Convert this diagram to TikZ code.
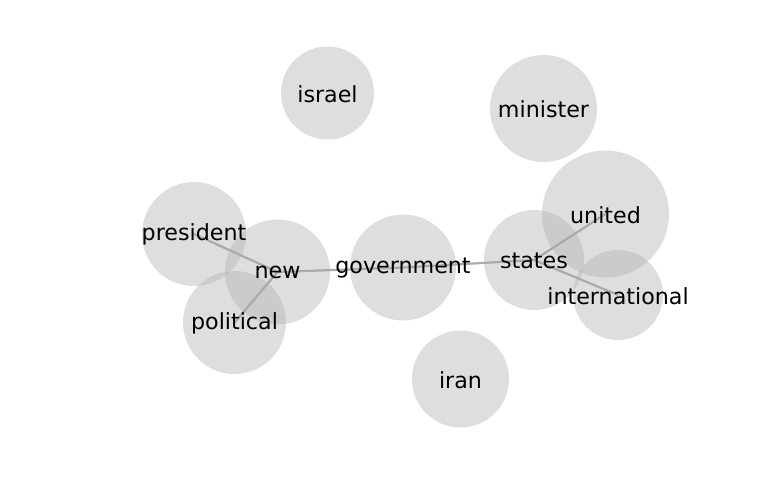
\documentclass[tikz,border=0pt]{standalone}
\usepackage{fontspec}
\setmainfont{DejaVu Sans}
\usepackage{tikz}
\usetikzlibrary{positioning}
\usepackage{xcolor}
\definecolor{wordfill}{HTML}{B3B3B3}
\definecolor{linkgray}{HTML}{AAAAAA}

\begin{document}
\begin{tikzpicture}[x=1pt, y=-1pt,
  word/.style={circle, fill=wordfill, fill opacity=0.44, draw=none, inner sep=0pt, minimum size=#1},
  link/.style={linkgray, line width=2.2pt},
  lbl/.style={font=\fontsize{22.2}{25}\selectfont, inner sep=0pt, yshift=-0.8pt}]
\useasboundingbox (0,0) rectangle (768,500);
% circles
\node[word=93pt]  (israel)   at (327.5,93)  {};
\node[word=107pt] (minister) at (543.5,108.5) {};
\node[word=127pt] (united)   at (605.5,214) {};
\node[word=104pt] (president) at (194,234) {};
\node[word=105pt] (new)      at (277.5,272) {};
\node[word=106pt] (gov)      at (403,267.5) {};
\node[word=100pt] (states)   at (534,260) {};
\node[word=90pt]  (intl)     at (618,295) {};
\node[word=103pt] (political) at (234.5,322.5) {};
\node[word=97pt]  (iran)     at (460.5,379) {};
% links
\draw[link] (president.center) -- (new.center);
\draw[link] (new.center) -- (political.center);
\draw[link] (new.center) -- (gov.center);
\draw[link] (gov.center) -- (states.center);
\draw[link] (states.center) -- (united.center);
\draw[link] (states.center) -- (intl.center);
% words
\node[lbl] (israel-t)    at (israel)    {israel};
\node[lbl] (minister-t)  at (minister)  {minister};
\node[lbl] (united-t)    at (united)    {united};
\node[lbl] (president-t) at (president) {president};
\node[lbl] (new-t)       at (new)       {new};
\node[lbl] (gov-t)       at (gov)       {government};
\node[lbl] (states-t)    at (states)    {states};
\node[lbl] (intl-t)      at (intl)      {international};
\node[lbl] (political-t) at (political) {political};
\node[lbl] (iran-t)      at (iran)      {iran};
\end{tikzpicture}
\end{document}
